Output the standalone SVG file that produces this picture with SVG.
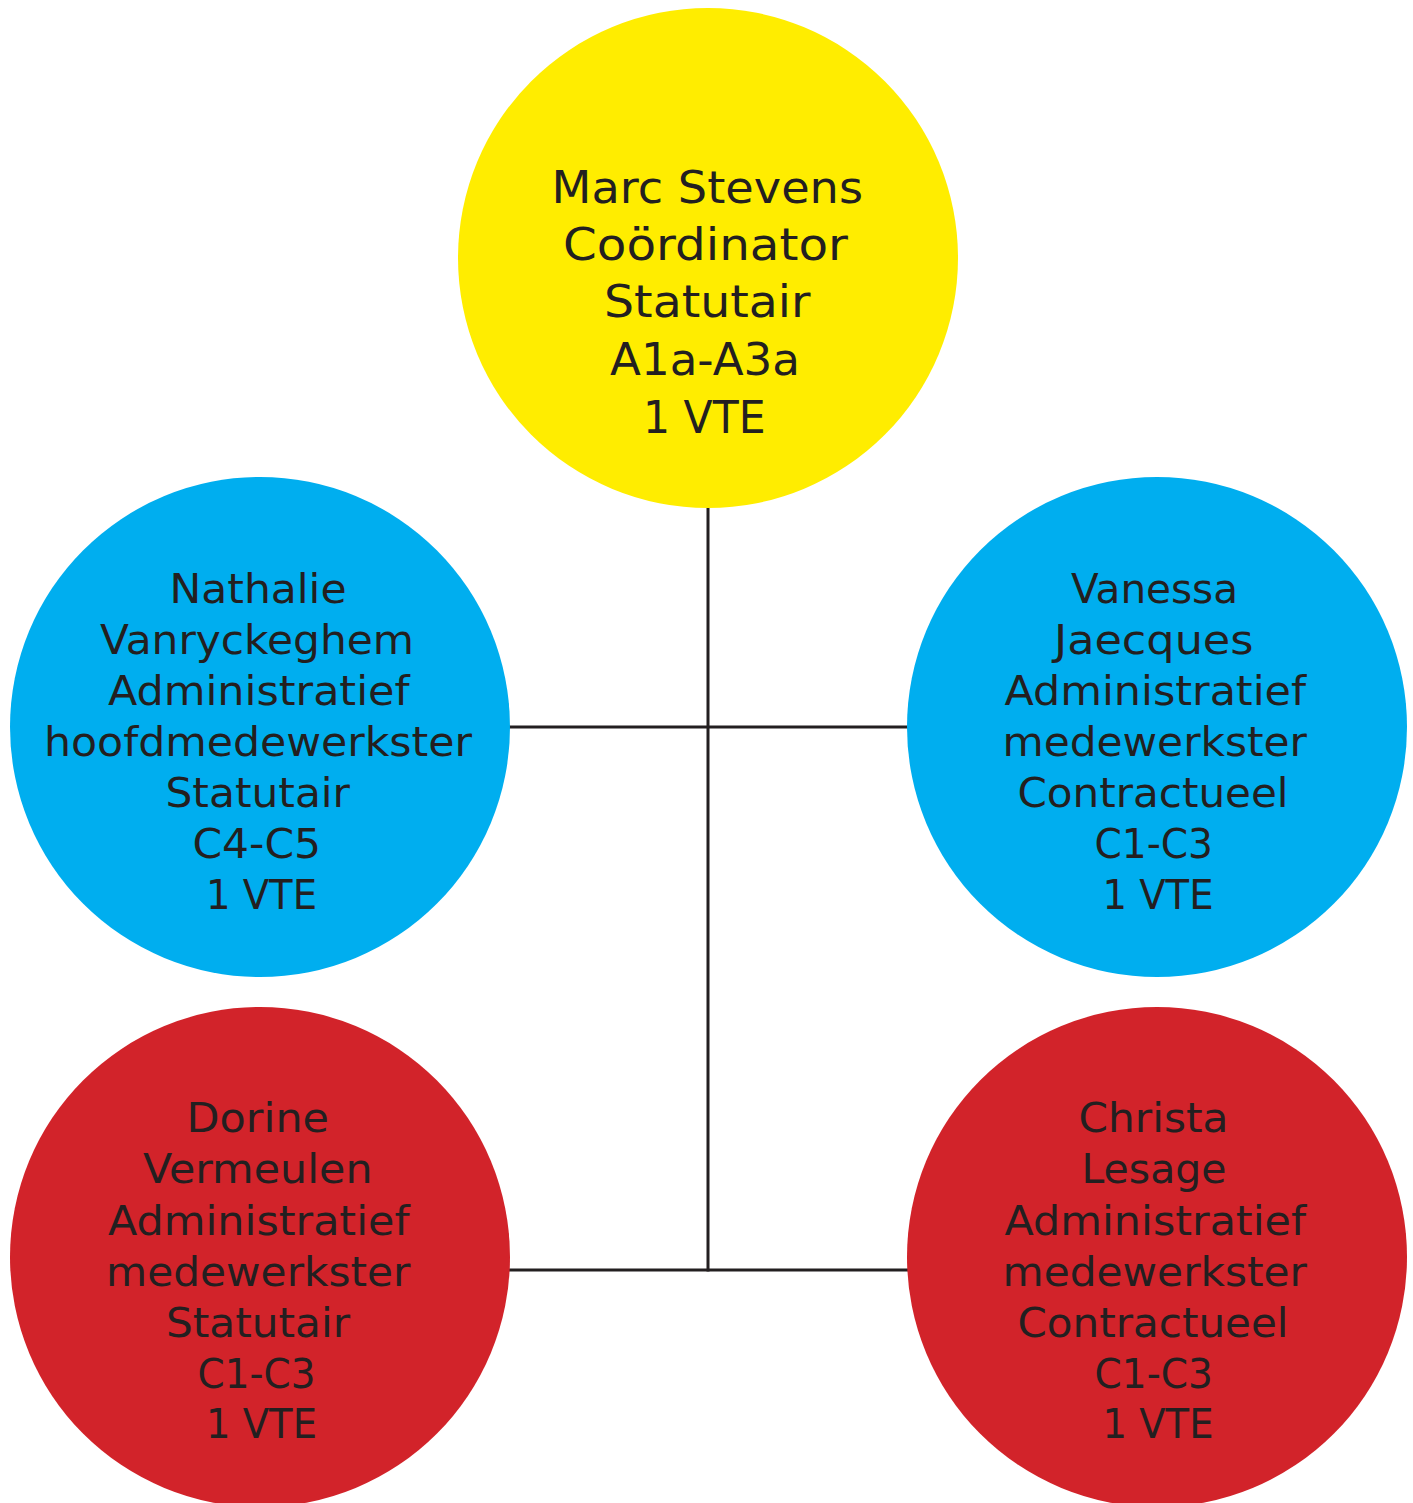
<svg xmlns="http://www.w3.org/2000/svg" width="1413" height="1503" viewBox="0 0 1413 1503">
<style>
.t{font-family:"DejaVu Sans","Liberation Sans",sans-serif;fill:#231f20;}
.y{font-size:45px;}
.b{font-size:40px;}
.conn{stroke:#231f20;stroke-width:3;fill:none;}
</style>
<rect width="1413" height="1503" fill="#ffffff"/>
<g id="connectors">
<line class="conn" x1="708" y1="506" x2="708" y2="1271.5"/>
<line class="conn" x1="508" y1="727" x2="909" y2="727"/>
<line class="conn" x1="508" y1="1270" x2="909" y2="1270"/>
</g>
<g id="node-marc">
<circle cx="708" cy="258" r="250" fill="#ffed00"/>
<text class="t y" lengthAdjust="spacingAndGlyphs" x="551.5" y="203" textLength="311.5">Marc Stevens</text>
<text class="t y" lengthAdjust="spacingAndGlyphs" x="563" y="260" textLength="285">Coördinator</text>
<text class="t y" lengthAdjust="spacingAndGlyphs" x="604" y="317" textLength="206.5">Statutair</text>
<text class="t y" lengthAdjust="spacingAndGlyphs" x="610" y="375" textLength="190">A1a-A3a</text>
<text class="t y" lengthAdjust="spacingAndGlyphs" x="643" y="433" textLength="122.5">1 VTE</text>
</g>
<g id="node-nathalie">
<circle cx="260" cy="727" r="250" fill="#00aeef"/>
<text class="t b" lengthAdjust="spacingAndGlyphs" x="169.5" y="603" textLength="177">Nathalie</text>
<text class="t b" lengthAdjust="spacingAndGlyphs" x="100" y="654" textLength="314">Vanryckeghem</text>
<text class="t b" lengthAdjust="spacingAndGlyphs" x="108" y="705" textLength="301.5">Administratief</text>
<text class="t b" lengthAdjust="spacingAndGlyphs" x="44" y="756" textLength="428">hoofdmedewerkster</text>
<text class="t b" lengthAdjust="spacingAndGlyphs" x="165.5" y="807" textLength="184.5">Statutair</text>
<text class="t b" lengthAdjust="spacingAndGlyphs" x="192.5" y="858" textLength="128.5">C4-C5</text>
<text class="t b" lengthAdjust="spacingAndGlyphs" x="206" y="909" textLength="111">1 VTE</text>
</g>
<g id="node-vanessa">
<circle cx="1157" cy="727" r="250" fill="#00aeef"/>
<text class="t b" lengthAdjust="spacingAndGlyphs" x="1071" y="603" textLength="167">Vanessa</text>
<text class="t b" lengthAdjust="spacingAndGlyphs" x="1054" y="654" textLength="199.5">Jaecques</text>
<text class="t b" lengthAdjust="spacingAndGlyphs" x="1004.5" y="705" textLength="301.5">Administratief</text>
<text class="t b" lengthAdjust="spacingAndGlyphs" x="1002.5" y="756" textLength="304.5">medewerkster</text>
<text class="t b" lengthAdjust="spacingAndGlyphs" x="1017.5" y="807" textLength="271">Contractueel</text>
<text class="t b" lengthAdjust="spacingAndGlyphs" x="1094.5" y="858" textLength="118.5">C1-C3</text>
<text class="t b" lengthAdjust="spacingAndGlyphs" x="1102.5" y="909" textLength="111">1 VTE</text>
</g>
<g id="node-dorine">
<circle cx="260" cy="1257" r="250" fill="#d2232a"/>
<text class="t b" lengthAdjust="spacingAndGlyphs" x="186.5" y="1132" textLength="142.5">Dorine</text>
<text class="t b" lengthAdjust="spacingAndGlyphs" x="143" y="1183" textLength="229.5">Vermeulen</text>
<text class="t b" lengthAdjust="spacingAndGlyphs" x="108" y="1235" textLength="301.5">Administratief</text>
<text class="t b" lengthAdjust="spacingAndGlyphs" x="106" y="1286" textLength="304.5">medewerkster</text>
<text class="t b" lengthAdjust="spacingAndGlyphs" x="166" y="1337" textLength="184">Statutair</text>
<text class="t b" lengthAdjust="spacingAndGlyphs" x="197.5" y="1388" textLength="118">C1-C3</text>
<text class="t b" lengthAdjust="spacingAndGlyphs" x="206" y="1438" textLength="111">1 VTE</text>
</g>
<g id="node-christa">
<circle cx="1157" cy="1257" r="250" fill="#d2232a"/>
<text class="t b" lengthAdjust="spacingAndGlyphs" x="1078.5" y="1132" textLength="150">Christa</text>
<text class="t b" lengthAdjust="spacingAndGlyphs" x="1081.5" y="1183" textLength="145">Lesage</text>
<text class="t b" lengthAdjust="spacingAndGlyphs" x="1004.5" y="1235" textLength="301.5">Administratief</text>
<text class="t b" lengthAdjust="spacingAndGlyphs" x="1002.5" y="1286" textLength="304.5">medewerkster</text>
<text class="t b" lengthAdjust="spacingAndGlyphs" x="1017.5" y="1337" textLength="271">Contractueel</text>
<text class="t b" lengthAdjust="spacingAndGlyphs" x="1094.5" y="1388" textLength="118.5">C1-C3</text>
<text class="t b" lengthAdjust="spacingAndGlyphs" x="1102.5" y="1438" textLength="111">1 VTE</text>
</g>
</svg>
